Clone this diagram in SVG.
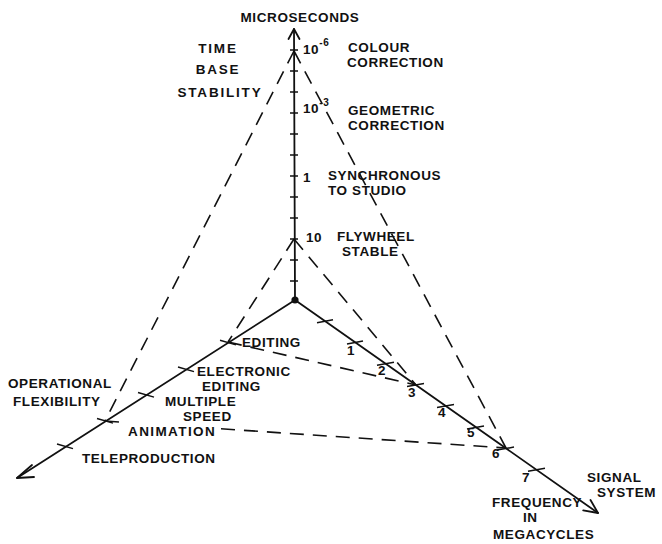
<svg xmlns="http://www.w3.org/2000/svg" width="662" height="544" viewBox="0 0 662 544">
<style>
.ax{stroke:#111;stroke-width:1.8;fill:none;stroke-linecap:round;stroke-linejoin:round}
.tk{stroke:#111;stroke-width:1.5;fill:none}
.ds{stroke:#111;stroke-width:1.6;fill:none;stroke-dasharray:14 9}
text{font-family:"Liberation Sans",Arial,sans-serif;font-weight:bold;font-size:13.5px;fill:#111;letter-spacing:0.6px}
.sup{font-size:10px}
.m{text-anchor:middle}
.w{letter-spacing:1.8px}
.w2{letter-spacing:1.4px}
</style>
<rect width="662" height="544" fill="#fff"/>
<g id="connectors">
<line class="ds" x1="294" y1="51" x2="105" y2="421"/>
<line class="ds" x1="294" y1="51" x2="506" y2="448"/>
<line class="ds" x1="294" y1="239" x2="228" y2="342"/>
<line class="ds" x1="294" y1="239" x2="416" y2="385"/>
<line class="ds" x1="228" y1="342" x2="416" y2="385"/>
<line class="ds" x1="105" y1="421" x2="124" y2="422.3"/>
<line class="ds" x1="221" y1="428.8" x2="506" y2="448"/>
</g>
<g id="axis-time">
<line class="ax" x1="295" y1="300" x2="294" y2="29"/>
<polyline class="ax" points="288.5,39 294,29 299.5,39"/>
<path class="tk" d="M290,50h8M290,71h8M290,92h8M290,113h8M290,134h8M290,155h8M290,176h8M290,197h8M290,218h8M290,239h8M290,260h8M290,281h8"/>
</g>
<g id="axis-operational">
<line class="ax" x1="295" y1="300" x2="17" y2="478"/>
<polyline class="ax" points="32,465 17,478 34,477"/>
<path class="tk" d="M220,340.3l16,4.6M178,367l16,4.6M138,392.5l16,4.6M97,418.5l16,4.6M57,444l16,4.6"/>
</g>
<g id="axis-signal">
<line class="ax" x1="295" y1="300" x2="598" y2="513"/>
<polyline class="ax" points="590.5,500 598,513 583.2,510.4"/>
<path class="tk" d="M317,322.7l16,-3M347,344l16,-3M377,365.2l17,-3M407,386.4l17,-3M437,407.6l17,-3M467,428.9l17,-3M497,450.1l17,-3M528,471.3l17,-3"/>
</g>
<circle id="origin" cx="295" cy="300" r="3.6" fill="#111"/>
<g id="label-microseconds"><text class="m" x="300" y="22">MICROSECONDS</text></g>
<g id="label-time-base"><text class="m w" x="218" y="53">TIME</text><text class="m w" x="218" y="74">BASE</text><text class="m w" x="220" y="97">STABILITY</text></g>
<g id="tick-1e-6"><text x="303" y="54">10<tspan class="sup" dy="-8">-6</tspan></text></g>
<g id="label-colour"><text x="348" y="52">COLOUR</text><text x="347" y="67">CORRECTION</text></g>
<g id="tick-1e-3"><text x="303" y="113">10<tspan class="sup" dy="-7">-3</tspan></text></g>
<g id="label-geometric"><text x="348" y="115">GEOMETRIC</text><text x="348" y="130">CORRECTION</text></g>
<g id="tick-1"><text x="303" y="182">1</text></g>
<g id="label-synchronous"><text x="328" y="180">SYNCHRONOUS</text><text x="328" y="195">TO STUDIO</text></g>
<g id="tick-10"><text x="306" y="242">10</text></g>
<g id="label-flywheel"><text x="337" y="241">FLYWHEEL</text><text x="342" y="256">STABLE</text></g>
<g id="label-editing"><text x="242" y="347">EDITING</text></g>
<g id="label-electronic"><text x="197" y="376">ELECTRONIC</text><text x="202" y="391">EDITING</text></g>
<g id="label-multiple"><text x="165" y="406">MULTIPLE</text><text x="183" y="421">SPEED</text></g>
<g id="label-animation"><text class="w2" x="128" y="436">ANIMATION</text></g>
<g id="label-teleproduction"><text x="82" y="463">TELEPRODUCTION</text></g>
<g id="label-operational"><text x="8" y="388">OPERATIONAL</text><text x="13" y="406">FLEXIBILITY</text></g>
<g id="freq-numbers">
<text x="347" y="355">1</text><text x="378" y="375">2</text><text x="408" y="397">3</text><text x="438" y="417">4</text><text x="467" y="437">5</text><text x="492" y="458">6</text><text x="522" y="482">7</text>
</g>
<g id="label-signal"><text x="587" y="482">SIGNAL</text><text x="597" y="497">SYSTEM</text></g>
<g id="label-frequency"><text x="492" y="507">FREQUENCY</text><text x="523" y="522">IN</text><text x="493" y="539">MEGACYCLES</text></g>
</svg>
